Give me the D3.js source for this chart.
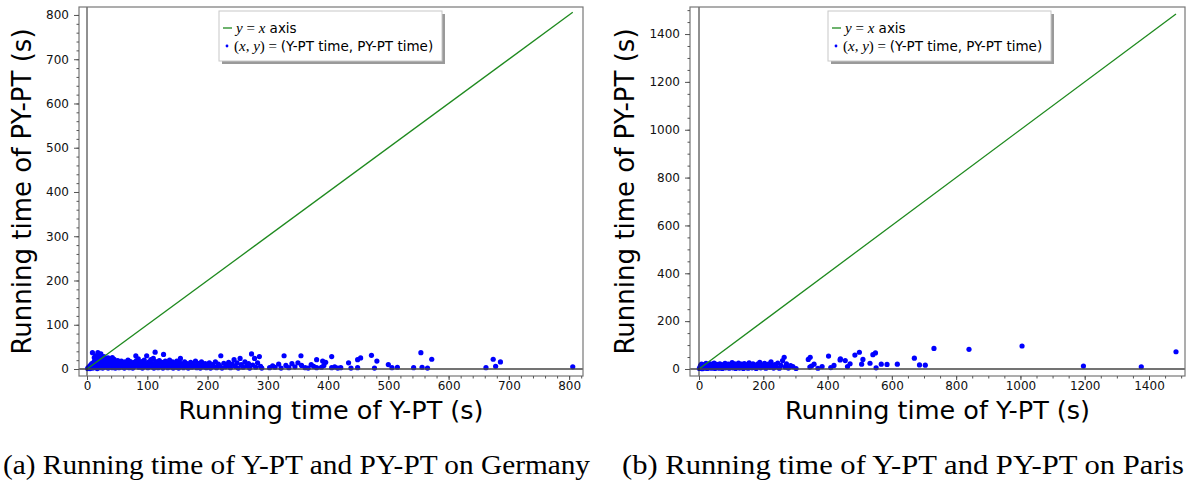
<!DOCTYPE html>
<html>
<head>
<meta charset="utf-8">
<script src="https://cdn.jsdelivr.net/npm/d3@7"></script>
<style>
  html, body { margin: 0; padding: 0; background: #fff; }
  svg { display: block; }
</style>
</head>
<body>
<svg id="chart" width="1186" height="486"></svg>
<script>
// ---------------- DATA ----------------
const germanyPoints = [
  [1,1],[2,3],[3,2],[4,6],[5,1],[6,9],[7,4],[8,12],[9,2],[10,7],[11,15],[12,3],[13,20],[14,10],[15,5],[16,24],[17,1],[18,13],[19,8],[20,18],[21,3],[22,27],[23,11],[24,6],[25,16],[26,2],[27,21],[28,9],[29,13],[30,4],[31,18],[32,7],[33,24],[34,12],[35,2],[36,16],[37,9],[38,20],[39,5],[40,13],[42,3],[43,17],[44,8],[45,22],[46,11],[47,2],[48,15],[50,6],[51,19],[52,10],[53,3],[55,14],[56,8],[57,18],[58,4],[60,12],
  [9,37],[18,37],[23,34],[14,30],[28,28],[42,26],[20,33],[12,26],[35,25],
  [62,2],[63,16],[65,9],[66,5],[68,20],[69,13],[70,3],[72,17],[73,8],[75,11],[76,2],[78,15],[79,6],[81,30],[82,19],[83,10],[85,23],[86,4],[88,14],[89,8],[91,17],[92,2],[94,11],[95,20],[97,6],[99,30],[100,13],[101,3],[103,16],[104,9],[106,21],[107,5],[109,12],[110,24],[111,2],[113,38],[114,17],[115,8],[117,13],[118,3],[120,19],[121,10],[123,6],[124,15],[126,2],[127,33],[128,11],[130,18],[131,7],[133,14],[134,3],[136,9],[137,20],[139,5],[140,12],[142,16],[143,2],[145,8],[146,13],[148,4],[149,18],[150,10],
  [152,2],[154,14],[155,24],[156,7],[158,11],[160,3],[162,16],[164,6],[166,12],[168,2],[170,9],[172,15],[174,4],[176,11],[178,7],[180,18],[182,3],[184,13],[186,8],[188,2],[190,16],[192,10],[194,5],[196,12],[198,3],[200,8],[203,14],[205,2],[208,10],[210,6],[213,16],[215,3],[218,11],[220,7],[222,30],[224,2],[227,13],[230,5],[233,9],[235,15],[238,3],[241,11],[244,21],[246,6],[249,14],[251,2],[254,24],[256,10],[259,4],[262,16],[265,7],[268,12],[270,2],[273,34],[275,9],[278,24],[280,4],[283,14],[286,28],[288,6],[290,2],
  [303,3],[308,7],[312,4],[318,11],[322,2],[327,30],[330,8],[335,3],[340,12],[345,5],[350,14],[355,30],[356,8],[362,3],[367,2],[372,10],[376,6],[381,21],[381,3],[389,4],[391,18],[393,8],[396,15],[406,28],[406,3],[411,5],[416,2],[421,3],
  [434,14],[438,2],[449,21],[449,3],[454,25],[472,31],[477,2],[481,18],[500,10],[506,3],[515,4],[542,3],[554,37],[556,4],[565,2],[572,22],[662,3],[674,22],[678,6],[686,16],[806,5]
];
const parisPoints = [
  [1,2],[3,8],[5,15],[6,4],[8,20],[10,1],[12,11],[14,6],[16,18],[18,3],[20,13],[22,24],[24,7],[26,2],[28,16],[30,10],[33,5],[35,21],[37,12],[40,3],[42,17],[45,8],[47,25],[50,2],[52,14],[55,19],[57,6],[60,11],[63,3],[65,22],[68,15],[70,7],[73,2],[76,18],[78,11],[81,24],[83,5],[86,14],[89,9],[91,20],[94,3],[97,16],[100,10],[103,27],[105,5],[108,13],[111,21],[114,2],[117,17],[120,8],[123,25],[126,4],[129,14],[132,20],[135,7],[138,2],[141,23],[144,12],[147,6],[150,18],[153,3],[156,26],[159,10],[162,15],[165,5],[168,22],[172,8],[175,14],[178,2],[182,20],[185,11],[189,28],[192,5],[196,16],[200,9],[204,24],[208,3],[212,14],[216,20],[220,7],[224,30],[228,12],[232,4],[236,18],[240,9],[245,25],[250,3],[255,15],[260,35],[265,49],[268,8],[272,22],[278,4],[285,14],[292,10],[302,2],
  [340,40],[345,8],[350,12],[358,20],[346,49],[370,3],[383,10],[403,54],[410,6],[420,15],[439,38],[440,42],[455,35],[462,10],[470,22],[485,58],[499,70],[506,20],[510,40],[532,24],[541,60],[549,67],[551,5],[567,20],[585,19],[617,20],[670,45],[686,17],[704,16],[731,86],[840,82],[1005,96],[1196,12],[1376,9],[1484,72]
];
const germanyTicks = [0,100,200,300,400,500,600,700,800];
const parisTicks = [0,200,400,600,800,1000,1200,1400];
const xLabel = "Running time of Y-PT (s)";
const yLabel = "Running time of PY-PT (s)";
const legendLineLabel = "axis";
const legendPointLabel = "(Y-PT time, PY-PT time)";
const captions = ["(a) Running time of Y-PT and PY-PT on Germany", "(b) Running time of Y-PT and PY-PT on Paris"];

// ---------------- DRAW ----------------
const svg = d3.select("#chart");

function panel(cfg) {
  const g = svg.append("g");
  const x = d3.scaleLinear().domain(cfg.xDomain).range([cfg.left, cfg.right]);
  const y = d3.scaleLinear().domain(cfg.yDomain).range([cfg.bottom, cfg.top]);

  // points
  g.append("g").selectAll("circle").data(cfg.points).join("circle")
    .attr("cx", d => x(d[0])).attr("cy", d => y(d[1])).attr("r", 2.6)
    .attr("fill", "#0000ff");

  // y = x line
  const maxX = d3.max(cfg.points, d => d[0]);
  g.append("line")
    .attr("x1", x(0)).attr("y1", y(0)).attr("x2", x(maxX)).attr("y2", y(maxX))
    .attr("stroke", "#1f8a1f").attr("stroke-width", 1.3);

  // axis lines at zero
  g.append("line").attr("x1", cfg.left).attr("x2", cfg.right).attr("y1", y(0)).attr("y2", y(0))
    .attr("stroke", "#444").attr("stroke-width", 1.6);
  g.append("line").attr("x1", x(0)).attr("x2", x(0)).attr("y1", cfg.top).attr("y2", cfg.bottom)
    .attr("stroke", "#222").attr("stroke-width", 1);

  // frame
  g.append("rect").attr("x", cfg.left).attr("y", cfg.top)
    .attr("width", cfg.right - cfg.left).attr("height", cfg.bottom - cfg.top)
    .attr("fill", "none").attr("stroke", "#777").attr("stroke-width", 1.2);

  // axes with ticks
  const xMinor = d3.range(0, cfg.xDomain[1], cfg.xMinorStep).filter(v => v >= cfg.xDomain[0]);
  const yMinor = d3.range(0, cfg.yDomain[1], cfg.yMinorStep).filter(v => v >= cfg.yDomain[0]);

  const xAxisMinor = d3.axisBottom(x).tickValues(xMinor).tickSize(2.5).tickFormat("");
  const yAxisMinor = d3.axisLeft(y).tickValues(yMinor).tickSize(2.5).tickFormat("");
  const xAxis = d3.axisBottom(x).tickValues(cfg.ticks).tickSize(4).tickPadding(1).tickFormat(d3.format("d"));
  const yAxis = d3.axisLeft(y).tickValues(cfg.ticks).tickSize(5).tickPadding(5).tickFormat(d3.format("d"));

  [xAxisMinor, xAxis].forEach(ax => {
    const a = g.append("g").attr("transform", `translate(0,${cfg.bottom})`).call(ax);
    a.select(".domain").remove();
    a.selectAll("line").attr("stroke", "#555");
    a.selectAll("text").attr("font-family", "DejaVu Sans").attr("font-size", 12).attr("fill", "#111");
  });
  [yAxisMinor, yAxis].forEach(ax => {
    const a = g.append("g").attr("transform", `translate(${cfg.left},0)`).call(ax);
    a.select(".domain").remove();
    a.selectAll("line").attr("stroke", "#555");
    a.selectAll("text").attr("font-family", "DejaVu Sans").attr("font-size", 12).attr("fill", "#111");
  });

  // axis labels
  g.append("text").attr("x", (cfg.left + cfg.right) / 2).attr("y", 419)
    .attr("text-anchor", "middle").attr("font-family", "DejaVu Sans").attr("font-size", 25.5)
    .attr("fill", "#000").text(xLabel);
  g.append("text").attr("transform", `translate(${cfg.yLabelX},${(cfg.top + cfg.bottom) / 2}) rotate(-90)`)
    .attr("text-anchor", "middle").attr("font-family", "DejaVu Sans").attr("font-size", 26)
    .attr("fill", "#000").text(yLabel);

  // legend
  const lx = cfg.legendX, ly = 11, lw = 223, lh = 50;
  g.append("rect").attr("x", lx + 3).attr("y", ly + 3).attr("width", lw).attr("height", lh).attr("fill", "#9a9a9a");
  g.append("rect").attr("x", lx).attr("y", ly).attr("width", lw).attr("height", lh)
    .attr("fill", "#fff").attr("stroke", "#c8c8c8").attr("stroke-width", 1);
  g.append("line").attr("x1", lx + 4).attr("x2", lx + 13).attr("y1", ly + 17).attr("y2", ly + 17)
    .attr("stroke", "#1f8a1f").attr("stroke-width", 1.3);
  const mathFont = "Liberation Serif", ms = 15, ts = 13.5;
  const t1 = g.append("text").attr("x", lx + 17).attr("y", ly + 22).attr("font-size", ts).attr("fill", "#000");
  t1.append("tspan").attr("font-family", mathFont).attr("font-style", "italic").attr("font-size", ms).text("y");
  t1.append("tspan").attr("font-family", mathFont).attr("font-size", ms).text(" = ");
  t1.append("tspan").attr("font-family", mathFont).attr("font-style", "italic").attr("font-size", ms).text("x");
  t1.append("tspan").attr("font-family", "DejaVu Sans").text(" " + legendLineLabel);
  g.append("circle").attr("cx", lx + 8).attr("cy", ly + 35).attr("r", 1.4).attr("fill", "#0000ff");
  const t2 = g.append("text").attr("x", lx + 15).attr("y", ly + 40).attr("font-size", ts).attr("fill", "#000");
  t2.append("tspan").attr("font-family", mathFont).attr("font-size", ms).text("(");
  t2.append("tspan").attr("font-family", mathFont).attr("font-style", "italic").attr("font-size", ms).text("x");
  t2.append("tspan").attr("font-family", mathFont).attr("font-size", ms).text(", ");
  t2.append("tspan").attr("font-family", mathFont).attr("font-style", "italic").attr("font-size", ms).text("y");
  t2.append("tspan").attr("font-family", mathFont).attr("font-size", ms).text(") = ");
  t2.append("tspan").attr("font-family", "DejaVu Sans").text(legendPointLabel);

  // caption
  svg.append("text").attr("x", cfg.capX).attr("y", 474)
    .attr("font-family", "Liberation Serif").attr("font-size", 28).attr("fill", "#000")
    .attr("textLength", cfg.capW).attr("lengthAdjust", "spacingAndGlyphs")
    .text(cfg.caption);
}

panel({
  points: germanyPoints, ticks: germanyTicks,
  xDomain: [-13.3, 823], yDomain: [-15.8, 818],
  xMinorStep: 20, yMinorStep: 20,
  left: 79, right: 583, top: 7, bottom: 376,
  yLabelX: 31, legendX: 219,
  caption: captions[0], capX: 3, capW: 587
});
panel({
  points: parisPoints, ticks: parisTicks,
  xDomain: [-28, 1512], yDomain: [-29.3, 1513],
  xMinorStep: 50, yMinorStep: 50,
  left: 690, right: 1185, top: 7, bottom: 376,
  yLabelX: 634, legendX: 828,
  caption: captions[1], capX: 622, capW: 562
});
</script>
</body>
</html>
